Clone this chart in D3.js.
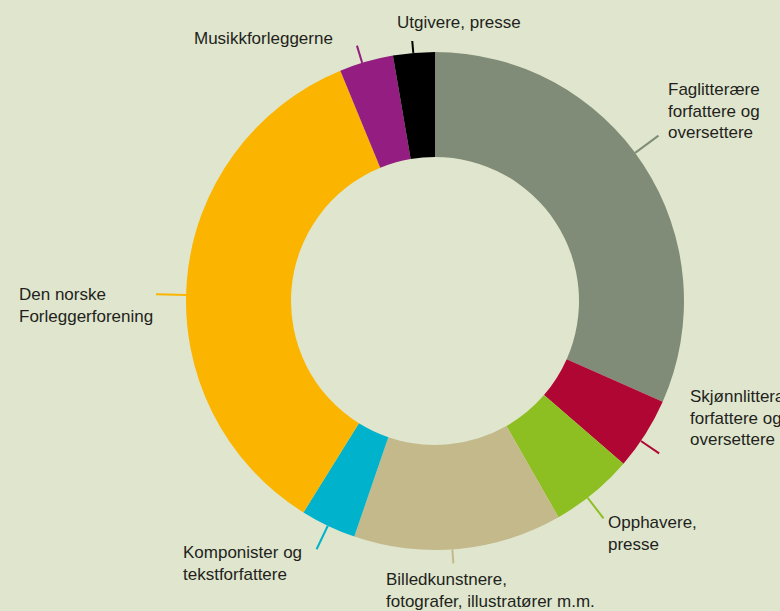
<!DOCTYPE html>
<html>
<head>
<meta charset="utf-8">
<script src="https://cdn.jsdelivr.net/npm/d3@7"></script>
<style>
  html, body { margin: 0; padding: 0; background: #dfe6cd; }
  svg { display: block; }
  text { font-family: "Liberation Sans", Arial, sans-serif; font-size: 17px; fill: #231f20; }
</style>
</head>
<body>
<svg id="chart" width="780" height="611"></svg>
<script>
// ---- data ----
const categories = [
  "Faglitterære forfattere og oversettere",
  "Skjønnlitterære forfattere og oversettere",
  "Opphavere, presse",
  "Billedkunstnere, fotografer, illustratører m.m.",
  "Komponister og tekstforfattere",
  "Den norske Forleggerforening",
  "Musikkforleggerne",
  "Utgivere, presse"
];
const values = [31.6, 4.7, 5.4, 13.5, 3.6, 34.9, 3.5, 2.7];
const labelLines = [
  ["Faglitterære", "forfattere og", "oversettere"],
  ["Skjønnlitterære", "forfattere og", "oversettere"],
  ["Opphavere,", "presse"],
  ["Billedkunstnere,", "fotografer, illustratører m.m."],
  ["Komponister og", "tekstforfattere"],
  ["Den norske", "Forleggerforening"],
  ["Musikkforleggerne"],
  ["Utgivere, presse"]
];
const colors = ["#808c78", "#b00634", "#8dbe22", "#c3b98b", "#00b2cc", "#fbb400", "#931d80", "#000000"];

// ---- layout (label placement, not data) ----
const layout = [
  { ang: 53.5,  len: 29, x: 668, y: 95 },
  { ang: 124.2, len: 22, x: 690, y: 402 },
  { ang: 142.2, len: 26, x: 608, y: 528 },
  { ang: 176.0, len: 14, x: 386, y: 585 },
  { ang: 205.5, len: 26, x: 183, y: 558 },
  { ang: 271.4, len: 30, x: 19,  y: 300 },
  { ang: 343.0, len: 18, x: 194, y: 44 },
  { ang: 355.0, len: 12, x: 397, y: 28 }
];

const W = 780, H = 611;
const cx = 435, cy = 301, R = 249, r = 144;

const svg = d3.select("#chart");
svg.append("rect").attr("width", W).attr("height", H).attr("fill", "#dfe6cd");

const pie = d3.pie().sort(null).value(d => d);
const arcs = pie(values);
const arc = d3.arc().innerRadius(r).outerRadius(R);

const g = svg.append("g").attr("transform", `translate(${cx},${cy})`);
g.selectAll("path.slice").data(arcs).enter().append("path")
  .attr("class", "slice")
  .attr("d", arc)
  .attr("fill", (d, i) => colors[i]);

// leader lines
const rad = a => a * Math.PI / 180;
g.selectAll("line.leader").data(layout).enter().append("line")
  .attr("class", "leader")
  .attr("x1", d => R * Math.sin(rad(d.ang)))
  .attr("y1", d => -R * Math.cos(rad(d.ang)))
  .attr("x2", d => (R + d.len) * Math.sin(rad(d.ang)))
  .attr("y2", d => -(R + d.len) * Math.cos(rad(d.ang)))
  .attr("stroke", (d, i) => colors[i])
  .attr("stroke-width", 2);

// labels
const lh = 21.5;
const labels = svg.selectAll("text.lbl").data(layout).enter().append("text")
  .attr("class", "lbl")
  .attr("x", d => d.x)
  .attr("y", d => d.y);
labels.each(function(d, i) {
  const t = d3.select(this);
  labelLines[i].forEach((line, j) => {
    t.append("tspan").attr("x", d.x).attr("y", d.y + j * lh).text(line);
  });
});
</script>
</body>
</html>
